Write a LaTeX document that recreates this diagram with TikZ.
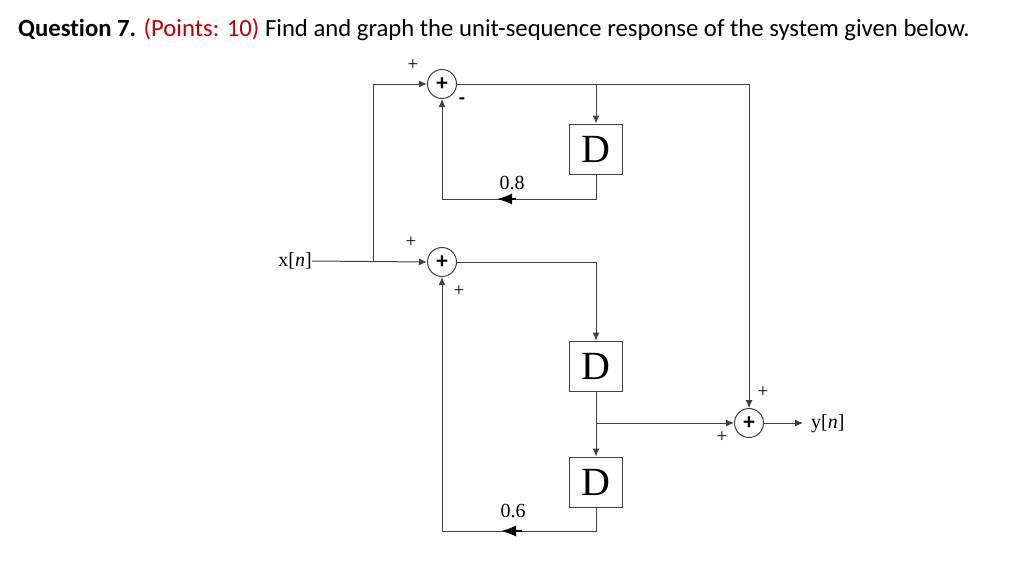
\documentclass[tikz,border=0pt]{standalone}
\usepackage{fontspec}
\setmainfont{Liberation Serif}
\newfontfamily\titlefont[Ligatures={NoCommon}]{Carlito}
\usetikzlibrary{arrows.meta}
\definecolor{qred}{RGB}{192,0,0}
\begin{document}
\begin{tikzpicture}[x=1pt,y=-1pt,
  wire/.style={draw=black!75, line width=1pt},
  arr/.style={wire, -{Latex[length=8pt,width=7pt]}},
  midarr/.style={-{Latex[length=15pt,width=11pt]}, line width=1.4pt},
  sumnode/.style={circle, draw=black!75, line width=1pt, minimum size=29pt, inner sep=0pt, font=\titlefont\fontsize{23}{23}\selectfont\bfseries},
  delay/.style={rectangle, draw=black!75, line width=1pt, minimum width=53pt, minimum height=50pt, inner sep=0pt, font=\fontsize{40}{40}\selectfont},
  sign/.style={font=\fontsize{19}{19}\selectfont, inner sep=0pt},
  lbl/.style={font=\fontsize{20}{20}\selectfont, inner sep=0pt}]
\useasboundingbox (0,0) rectangle (1024,568);
% title
\node[anchor=west, inner sep=0pt, font=\titlefont\fontsize{24.7}{25}\selectfont] (title) at (18,30)
  {\textbf{Question 7.} \textcolor{qred}{(Points: 10)} Find and graph the unit-sequence response of the system given below.};
% nodes
\node[sumnode] (s1) at (442,84) {+};
\node[sumnode] (s2) at (442,262) {+};
\node[sumnode] (s3) at (749,423) {+};
\node[delay] (d1) at (596,149) {D};
\node[delay] (d2) at (596,366) {D};
\node[delay] (d3) at (596,482) {D};
\node[lbl, anchor=east] (x) at (312,261) {x[\textit{n}]};
\node[lbl, anchor=west] (y) at (811,424) {y[\textit{n}]};
\coordinate (j0) at (373,261);
\coordinate (j1) at (596,84);
\coordinate (j2) at (596,423);
% signs
\node[sign] (p1) at (413,65) {+};
\node[sign, font=\titlefont\fontsize{20}{20}\selectfont\bfseries] (m1) at (462,101) {-};
\node[sign] (p2) at (411,242) {+};
\node[sign] (p3) at (459,291) {+};
\node[sign] (p4) at (763,392) {+};
\node[sign] (p5) at (722,437) {+};
% gains
\node[lbl] (g1) at (512,183) {0.8};
\node[lbl] (g2) at (513,511) {0.6};
% wires
\draw[arr] (x.east) -- (s2.west);
\draw[arr] (j0) |- (s1.west);
\draw[wire] (s1.east) -- (j1);
\draw[arr] (j1) -- (d1.north);
\draw[arr] (j1) -| (s3.north);
\draw[arr] (d1.south) |- (442,199) -- (s1.south);
\draw[midarr] (516,199) -- (497,199);
\draw[arr] (s2.east) -| (d2.north);
\draw[wire] (d2.south) -- (j2);
\draw[arr] (j2) -- (d3.north);
\draw[arr] (j2) -- (s3.west);
\draw[arr] (d3.south) |- (442,531) -- (s2.south);
\draw[midarr] (522,531) -- (501,531);
\draw[arr] (s3.east) -- (803,423);
\end{tikzpicture}
\end{document}
